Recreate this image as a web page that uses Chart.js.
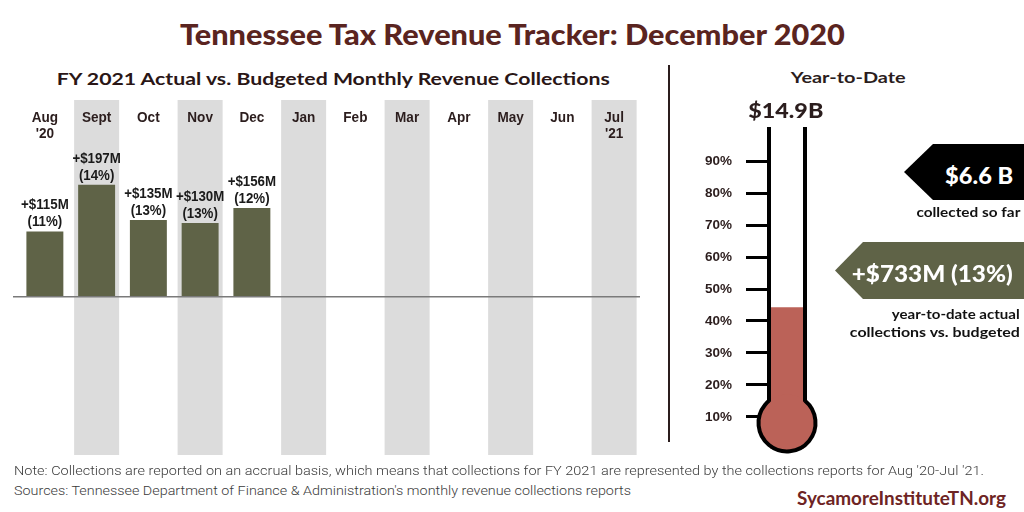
<!DOCTYPE html>
<html><head><meta charset="utf-8">
<script src="https://cdn.jsdelivr.net/npm/chart.js@4.4.0/dist/chart.umd.min.js"></script>
<style>
html,body{margin:0;padding:0;background:#fff;}
#page{position:relative;width:1024px;height:512px;overflow:hidden;background:#fff;}
.t{position:absolute;white-space:nowrap;line-height:1;}
canvas{position:absolute;}
</style></head><body>
<div id="page">
<canvas id="c1" width="660" height="375" style="left:0;top:90px;"></canvas>
<canvas id="c2" width="150" height="364" style="left:690px;top:107px;"></canvas>
<div style="position:absolute;left:668px;top:65px;width:2px;height:377px;background:#2b1d1d;"></div>
<div style="position:absolute;left:904px;top:144px;width:120px;height:56px;background:#000;clip-path:polygon(0 50%,29px 0,100% 0,100% 100%,29px 100%);"></div>
<div style="position:absolute;left:835px;top:242px;width:189px;height:57px;background:#5f6347;clip-path:polygon(0 50%,28px 0,100% 0,100% 100%,28px 100%);"></div>
</div>
<script>
// ---------- data ----------
const monthLabels = [["Aug","'20"],["Sept"],["Oct"],["Nov"],["Dec"],["Jan"],["Feb"],["Mar"],["Apr"],["May"],["Jun"],["Jul","'21"]];
const surplusM   = [115,197,135,130,156,null,null,null,null,null,null,null];
const surplusPct = [11,14,13,13,12,null,null,null,null,null,null,null];
const shaded     = [false,true,false,true,false,true,false,true,false,true,false,true];
const ytdBudgetB = 14.9;
const ytdCollectedB = 6.6;
const ytdSurplusM = 733;
const ytdSurplusPct = 13;
const thermoTicks = [10,20,30,40,50,60,70,80,90];

const Y_MIN = -278, Y_MAX = 346;
const DARK = '#2b1d1d';
const page = document.getElementById('page');

// ---------- html text helper ----------
function txt(str, o){
  const s = document.createElement('div'); s.className='t'; s.textContent=str;
  const size=o.size, fam=o.family||"Lato, 'Liberation Sans', sans-serif";
  s.style.font = `${o.weight||700} ${size}px ${fam}`; s.style.color=o.color||DARK;
  page.appendChild(s);
  const w0 = s.getBoundingClientRect().width;
  const k = o.w ? o.w/w0 : 1;
  const align=o.align||'center';
  const left = align==='center' ? o.x - w0/2 : align==='left' ? o.x : o.x - w0;
  s.style.left = left+'px'; s.style.top = (o.y - size*0.53)+'px';
  s.style.transformOrigin = align==='center'?'50% 50%':align==='left'?'0 50%':'100% 50%';
  s.style.transform = `scaleX(${k})`;
}

txt('Tennessee Tax Revenue Tracker: December 2020',{x:512,y:32,w:665,size:28,weight:900,color:'#5a2420'});
txt('FY 2021 Actual vs. Budgeted Monthly Revenue Collections',{x:333,y:77,w:553,size:17,color:'#2a1616'});
txt('Year-to-Date',{x:848,y:75,w:115,size:16});
txt('$'+ytdBudgetB.toFixed(1)+'B',{x:786,y:108,w:75,size:21,weight:900});
txt('$'+ytdCollectedB.toFixed(1)+' B',{x:979,y:173,w:68,size:23,weight:900,color:'#fff'});
txt('collected so far',{x:1020,y:211,w:104,size:13.5,align:'right',color:'#111'});
txt('+$'+ytdSurplusM+'M ('+ytdSurplusPct+'%)',{x:932,y:271,w:161,size:23,weight:900,color:'#fff'});
txt('year-to-date actual',{x:1020,y:313,w:128,size:13.5,align:'right',color:'#111'});
txt('collections vs. budgeted',{x:1020,y:331,w:170,size:13.5,align:'right',color:'#111'});
txt("Note: Collections are reported on an accrual basis, which means that collections for FY 2021 are represented by the collections reports for Aug '20-Jul '21.",
    {x:14,y:470,w:970,size:13,weight:300,align:'left',color:'#3a3a3a',family:"Roboto, 'Liberation Sans', sans-serif"});
txt("Sources: Tennessee Department of Finance & Administration's monthly revenue collections reports",
    {x:14,y:490,w:617,size:13,weight:300,align:'left',color:'#3a3a3a',family:"Roboto, 'Liberation Sans', sans-serif"});
txt('SycamoreInstituteTN.org',{x:1006,y:497,w:209,size:18,align:'right',color:'#6e2424'});

// ---------- monthly chart ----------
const bands = shaded.map(s => s ? [Y_MIN, Y_MAX] : null);

const monthPlugin = {
  id:'monthDeco',
  afterDatasetsDraw(chart){
    const ctx=chart.ctx, xs=chart.scales.x, ys=chart.scales.y, ca=chart.chartArea;
    const y0 = ys.getPixelForValue(0);
    ctx.save();
    ctx.strokeStyle='#7a7a7a'; ctx.lineWidth=1.5;
    ctx.beginPath(); ctx.moveTo(ca.left-6,y0); ctx.lineTo(ca.right,y0); ctx.stroke();
    ctx.fillStyle=DARK; ctx.textAlign='center'; ctx.textBaseline='middle';
    ctx.font="bold 14px 'Liberation Sans', Arial, sans-serif";
    monthLabels.forEach((lines,i)=>{
      const x = xs.getPixelForValue(i);
      lines.forEach((ln,k)=>{
        const w = ctx.measureText(ln).width;
        ctx.fillText(ln, x, ca.top+18+k*16, w*0.97);
      });
    });
    const meta = chart.getDatasetMeta(0);
    ctx.textBaseline='alphabetic';
    ctx.fillStyle='#1a1a1a';
    ctx.font="bold 14px 'Liberation Sans', Arial, sans-serif";
    surplusM.forEach((v,i)=>{
      if(v==null) return;
      const el = meta.data[i];
      const l1 = '+$'+v+'M', l2 = '('+surplusPct[i]+'%)';
      ctx.fillText(l1, el.x, el.y-22, ctx.measureText(l1).width*0.95);
      ctx.fillText(l2, el.x, el.y-5, ctx.measureText(l2).width*0.95);
    });
    ctx.restore();
  }
};

new Chart(document.getElementById('c1'),{
  type:'bar',
  data:{labels:monthLabels, datasets:[
    {label:'Actual vs. budgeted ($M)', data:surplusM, backgroundColor:'#5f6347', barPercentage:0.714, categoryPercentage:1, grouped:false, order:0},
    {label:'band', data:bands, backgroundColor:'#dcdcdc', barPercentage:0.87, categoryPercentage:1, grouped:false, order:1}
  ]},
  options:{responsive:false, animation:false, events:[],
    layout:{padding:{left:19,right:20,top:10,bottom:10}},
    plugins:{legend:{display:false},tooltip:{enabled:false}},
    scales:{x:{display:false}, y:{display:false,min:Y_MIN,max:Y_MAX}}
  },
  plugins:[monthPlugin]
});

// ---------- thermometer ----------
const thermoPlugin = {
  id:'thermo',
  afterDatasetsDraw(chart){
    const ctx=chart.ctx, ca=chart.chartArea, ys=chart.scales.y;
    const xl=ca.left+2, xr=ca.right-2, cx=(xl+xr)/2;
    const y0=ys.getPixelForValue(0);
    const r=28.5, cy=y0-26;
    const dx=(xr-xl)/2, th=Math.acos(dx/r), meetY=cy-r*Math.sin(th);
    ctx.save();
    ctx.fillStyle='#bb6258';
    ctx.beginPath(); ctx.arc(cx,cy,r,0,Math.PI*2); ctx.fill();
    ctx.strokeStyle='#000'; ctx.lineWidth=4;
    ctx.beginPath(); ctx.arc(cx,cy,r,-th,Math.PI+th); ctx.stroke();
    ctx.beginPath();
    ctx.moveTo(xl,ca.top-2); ctx.lineTo(xl,meetY+1);
    ctx.moveTo(xr,ca.top-2); ctx.lineTo(xr,meetY+1);
    ctx.stroke();
    ctx.restore();
  }
};

new Chart(document.getElementById('c2'),{
  type:'bar',
  data:{labels:['YTD'], datasets:[{label:'Collected share', data:[ytdCollectedB/ytdBudgetB*100], backgroundColor:'#bb6258', barPercentage:0.83, categoryPercentage:1}]},
  options:{responsive:false, animation:false, events:[],
    layout:{padding:{left:12,right:33,top:14,bottom:11}},
    plugins:{legend:{display:false},tooltip:{enabled:false}},
    scales:{
      x:{display:false},
      y:{min:0,max:100,
        afterBuildTicks:(ax)=>{ax.ticks=thermoTicks.map(v=>({value:v}));},
        afterFit:(ax)=>{ax.width=65;},
        border:{display:false},
        grid:{drawOnChartArea:false,drawTicks:true,tickLength:21,tickWidth:3,tickColor:'#000'},
        ticks:{padding:14,color:DARK,font:{family:"'Liberation Sans', Arial, sans-serif",weight:'bold',size:13.5},callback:v=>v+'%'}
      }
    }
  },
  plugins:[thermoPlugin]
});
</script>
</body></html>
